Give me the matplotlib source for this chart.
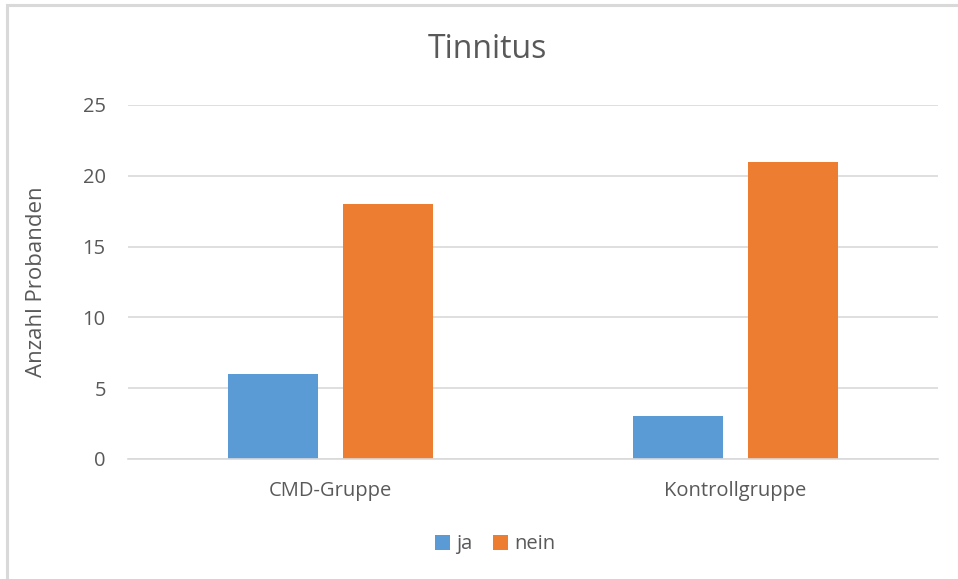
import matplotlib
matplotlib.use("Agg")
import matplotlib.pyplot as plt
import numpy as np
from matplotlib.patches import Rectangle

plt.rcParams['font.family'] = ['Open Sans', 'DejaVu Sans']

gruppen = ['CMD-Gruppe', 'Kontrollgruppe']
ja = [6, 3]
nein = [18, 21]
serien = ['ja', 'nein']
farben = ['#5b9bd5', '#ed7d31']
text_grau = '#595959'
linien_grau = '#d9d9d9'

fig = plt.figure(figsize=(9.58, 5.79), dpi=100)
ax = fig.add_axes([0.1336, 0.2073, 0.8455, 0.6114])

x = np.arange(len(gruppen))
breite = 0.222
versatz = 0.142
ax.bar(x - versatz, ja, breite, color=farben[0], label=serien[0], zorder=3)
ax.bar(x + versatz, nein, breite, color=farben[1], label=serien[1], zorder=3)

ax.set_xlim(-0.5, 1.5)
ax.set_ylim(0, 25)
ax.set_yticks(np.arange(0, 26, 5))
ax.set_xticks(x)
ax.set_xticklabels(gruppen)
ax.yaxis.grid(True, color=linien_grau, linewidth=1.2, zorder=0)
for s in ['top', 'right', 'left']:
    ax.spines[s].set_visible(False)
ax.spines['bottom'].set_color(linien_grau)
ax.spines['bottom'].set_linewidth(1.2)
ax.spines['bottom'].set_zorder(4)
ax.tick_params(axis='both', length=0, labelsize=14.5, labelcolor=text_grau)
ax.tick_params(axis='x', pad=16)
ax.tick_params(axis='y', pad=16)

ax.set_ylabel('Anzahl Probanden', fontsize=16, color=text_grau, labelpad=26)
fig.text(0.509, 0.914, 'Tinnitus', ha='center', va='center', fontsize=23, color=text_grau)

leg = fig.legend(loc='center', ncol=2, frameon=False,
                 fontsize=14.5, handlelength=0.75, handleheight=0.75, handletextpad=0.3,
                 columnspacing=1.0, labelcolor=text_grau)
leg.set_bbox_to_anchor((0.517, 0.06), transform=fig.transFigure)

# Rahmen des Diagrammbereichs (nur links und oben sichtbar)
fig.patches.append(Rectangle((0.0073, -0.05), 1.2, 1.041, transform=fig.transFigure,
                             fill=False, edgecolor=linien_grau, linewidth=2.2))

fig.savefig('out.png', dpi=100, facecolor='white')
